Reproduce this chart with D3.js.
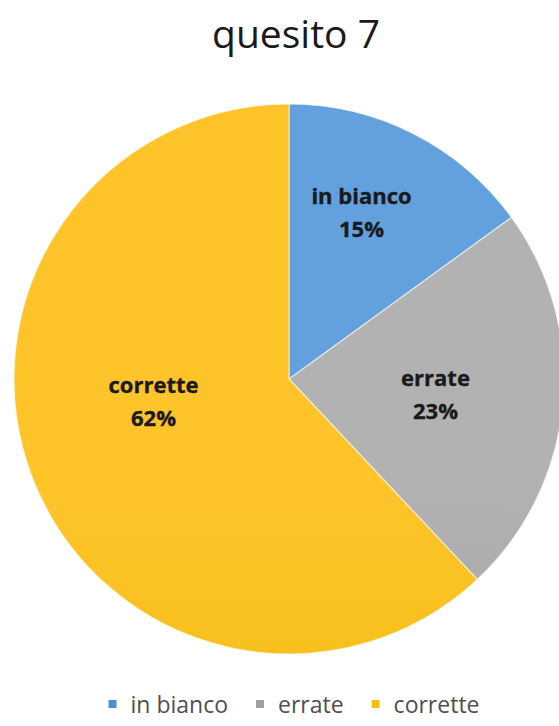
<!DOCTYPE html>
<html>
<head>
<meta charset="utf-8">
<script src="https://cdn.jsdelivr.net/npm/d3@7"></script>
<style>
  html, body { margin: 0; padding: 0; background: #ffffff; }
  svg { display: block; }
</style>
</head>
<body>
<svg id="chart" width="559" height="726"></svg>
<script>
// Risposte al quesito 7 (percentuali)
const categories = ["in bianco", "errate", "corrette"];
const values = [15, 23, 62];
const title = "quesito 7";

// Colori delle fette: tono chiaro in alto, più scuro in basso
const colorTop = ["#62a1dd", "#b2b2b2", "#fec42a"];
const colorBottom = ["#3d80c2", "#959595", "#e9b800"];
const legendColors = ["#4f90d0", "#a0a0a0", "#f5bf10"];

// Posizione delle etichette rispetto al centro della torta (layout)
const labelOffsets = [[72.5, -159], [146.5, 23.5], [-135.5, 30]];

const width = 559, height = 726;
const cx = 289, cy = 379, radius = 275;

const svg = d3.select("#chart");
const defs = svg.append("defs");

categories.forEach((c, i) => {
  const g = defs.append("linearGradient")
    .attr("id", "grad" + i)
    .attr("gradientUnits", "userSpaceOnUse")
    .attr("x1", 0).attr("x2", 0)
    .attr("y1", cy - radius).attr("y2", cy + radius);
  g.append("stop").attr("offset", "0%").attr("stop-color", colorTop[i]);
  g.append("stop").attr("offset", "100%").attr("stop-color", colorBottom[i]);
});

// Titolo
svg.append("text")
  .attr("x", 296)
  .attr("y", 48)
  .attr("text-anchor", "middle")
  .attr("font-family", "'Open Sans', sans-serif")
  .attr("font-size", 39)
  .attr("fill", "#1a1a1a")
  .text(title);

const pie = d3.pie().sort(null).value(d => d)(values);
const arc = d3.arc().innerRadius(0).outerRadius(radius);

const gPie = svg.append("g").attr("transform", `translate(${cx},${cy})`);

gPie.selectAll("path.slice")
  .data(pie)
  .join("path")
  .attr("class", "slice")
  .attr("d", arc)
  .attr("fill", (d, i) => `url(#grad${i})`)
  .attr("stroke", "#ffffff")
  .attr("stroke-opacity", 0.6)
  .attr("stroke-width", 1.2);

// Etichette dei dati
const fmt = d3.format(".0%");
const total = d3.sum(values);
const labels = gPie.selectAll("g.label")
  .data(pie)
  .join("g")
  .attr("class", "label")
  .attr("transform", (d, i) => `translate(${labelOffsets[i][0]},${labelOffsets[i][1]})`);

const labelStyle = sel => sel
  .attr("text-anchor", "middle")
  .attr("font-family", "'Open Sans', sans-serif")
  .attr("font-weight", "bold")
  .attr("font-size", 22)
  .attr("fill", "#1a1a1a")
  .attr("stroke", "#1a1a1a")
  .attr("stroke-width", 0.35);

labels.append("text")
  .attr("y", -16.5)
  .call(labelStyle)
  .text((d, i) => categories[i]);

labels.append("text")
  .attr("y", 16.5)
  .call(labelStyle)
  .text(d => fmt(d.data / total));

// Legenda
const legend = svg.append("g");
const legendFont = 23;
const items = legend.selectAll("g.item")
  .data(categories)
  .join("g")
  .attr("class", "item");

items.append("rect")
  .attr("width", 8)
  .attr("height", 8)
  .attr("y", 700)
  .attr("fill", (d, i) => legendColors[i]);

items.append("text")
  .attr("x", 22)
  .attr("y", 713)
  .attr("font-family", "'Open Sans', sans-serif")
  .attr("font-size", legendFont)
  .attr("fill", "#505050")
  .text(d => d);

let x = 0;
const pos = [];
items.each(function () {
  const w = d3.select(this).select("text").node().getComputedTextLength();
  pos.push(x);
  x += 22 + w + 28;
});
const totalW = x - 28;
const startX = 294 - totalW / 2;
items.attr("transform", (d, i) => `translate(${startX + pos[i]},0)`);
</script>
</body>
</html>
